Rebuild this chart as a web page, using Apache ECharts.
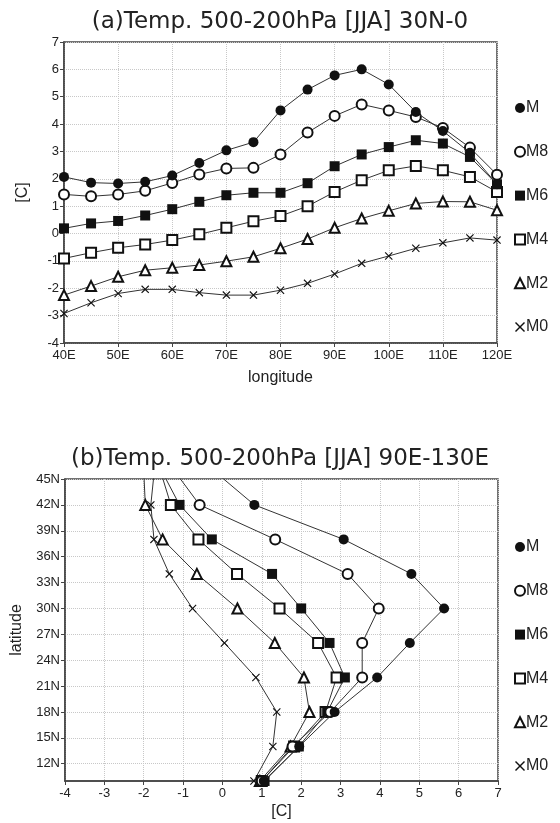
<!DOCTYPE html>
<html>
<head>
<meta charset="utf-8">
<title>Temp. 500-200hPa [JJA]</title>
<script src="https://cdn.jsdelivr.net/npm/echarts@6/dist/echarts.min.js"></script>
</head>
<body style="margin:0;background:#fff">
<div id="main" style="width:560px;height:823px;"></div>
<script type="text/javascript">
// (a) 30N-0 mean, by longitude
var lonA = [40, 45, 50, 55, 60, 65, 70, 75, 80, 85, 90, 95, 100, 105, 110, 115, 120];
var aM  = [2.07, 1.86, 1.83, 1.89, 2.12, 2.58, 3.04, 3.34, 4.5, 5.26, 5.78, 6.0, 5.45, 4.44, 3.75, 2.95, 1.8];
var aM8 = [1.43, 1.36, 1.43, 1.56, 1.85, 2.16, 2.38, 2.4, 2.89, 3.69, 4.3, 4.72, 4.5, 4.26, 3.86, 3.14, 2.15];
var aM6 = [0.19, 0.37, 0.46, 0.66, 0.89, 1.16, 1.4, 1.49, 1.49, 1.84, 2.46, 2.89, 3.16, 3.41, 3.29, 2.8, 1.8];
var aM4 = [-0.91, -0.7, -0.52, -0.4, -0.24, -0.03, 0.21, 0.45, 0.64, 1.0, 1.52, 1.95, 2.31, 2.47, 2.31, 2.07, 1.52];
var aM2 = [-2.25, -1.92, -1.58, -1.34, -1.25, -1.15, -1.01, -0.85, -0.54, -0.2, 0.21, 0.55, 0.83, 1.1, 1.17, 1.16, 0.85];
var aM0 = [-2.92, -2.53, -2.19, -2.04, -2.04, -2.16, -2.25, -2.25, -2.07, -1.82, -1.48, -1.09, -0.82, -0.54, -0.34, -0.16, -0.24];

// (b) 90E-130E mean, by latitude (last row runs past the top edge)
var latB = [10, 14, 18, 22, 26, 30, 34, 38, 42, 46];
var bM  = [1.05, 1.95, 2.85, 3.93, 4.76, 5.63, 4.8, 3.08, 0.81, -0.23];
var bM8 = [1.0, 1.78, 2.74, 3.55, 3.55, 3.97, 3.18, 1.34, -0.58, -1.23];
var bM6 = [1.07, 1.94, 2.66, 3.11, 2.72, 2.0, 1.26, -0.27, -1.09, -1.55];
var bM4 = [1.0, 1.82, 2.62, 2.9, 2.43, 1.45, 0.37, -0.61, -1.31, -1.58];
var bM2 = [0.95, 1.73, 2.21, 2.07, 1.33, 0.38, -0.65, -1.52, -1.96, -2.0];
var bM0 = [0.8, 1.28, 1.38, 0.85, 0.05, -0.76, -1.35, -1.74, -1.82, -1.73];

var latTicks = [12, 15, 18, 21, 24, 27, 30, 33, 36, 39, 42, 45];

var crossPath = 'path://M1,0L5,4L9,0L10,1L6,5L10,9L9,10L5,6L1,10L0,9L4,5L0,1Z';
var names = ['M', 'M8', 'M6', 'M4', 'M2', 'M0'];
var symbols = ['circle', 'emptyCircle', 'rect', 'emptyRect', 'emptyTriangle', crossPath];
var sizes = [10, 10, 10, 10, 10, 8];

var font = 'Liberation Sans';

var myChart = echarts.init(document.getElementById('main'), null, { renderer: 'canvas' });

function makeSeries(name, idx, data, grid) {
    return {
        type: 'line',
        name: name,
        xAxisIndex: grid,
        yAxisIndex: grid,
        data: data,
        symbol: symbols[idx],
        symbolSize: sizes[idx],
        itemStyle: { color: '#111', borderWidth: 1 },
        lineStyle: { color: '#333', width: 1 },
        z: 10 - idx
    };
}

var series = [];
[aM, aM8, aM6, aM4, aM2, aM0].forEach(function (arr, i) {
    series.push(makeSeries(names[i], i, lonA.map(function (lon, j) { return [lon, arr[j]]; }), 0));
});
[bM, bM8, bM6, bM4, bM2, bM0].forEach(function (arr, i) {
    series.push(makeSeries(names[i], i, latB.map(function (lat, j) { return [arr[j], lat]; }), 1));
});

var legendData = names.map(function (n, i) { return { name: n, icon: symbols[i] }; });

function legendAt(top) {
    return {
        orient: 'vertical',
        left: 509,
        top: top,
        itemWidth: 10,
        itemHeight: 10,
        itemGap: 25.8,
        selectedMode: false,
        itemStyle: { borderWidth: 1 },
        textStyle: { fontFamily: font, fontSize: 16, color: '#222', lineHeight: 18, padding: [0, 0, 0, -4] },
        data: legendData
    };
}

var gridLine = { show: true, lineStyle: { type: 'dotted', color: '#c8c8c8', width: 1 } };
var axLine = { show: true, onZero: false, lineStyle: { color: '#444', width: 1.5 } };
var axTick = { show: true, inside: false, length: 4, lineStyle: { color: '#444' } };
var lab = { fontFamily: font, fontSize: 13, color: '#222' };
var nameStyle = { fontFamily: font, fontSize: 16, color: '#222' };
var titleStyle = { fontFamily: 'DejaVu Sans', fontSize: 23, fontWeight: 'normal', color: '#222' };

myChart.setOption({
    animation: false,
    backgroundColor: '#fff',
    title: [
        { text: '(a)Temp. 500-200hPa [JJA] 30N-0', left: 'center', top: 6, textStyle: titleStyle },
        { text: '(b)Temp. 500-200hPa [JJA] 90E-130E', left: 'center', top: 443, textStyle: titleStyle }
    ],
    legend: [legendAt(94), legendAt(533)],
    grid: [
        { left: 64, top: 42, right: 63, bottom: 480, show: true, borderColor: '#444', borderWidth: 1.5 },
        { left: 65, top: 479, right: 62, bottom: 42, show: true, borderColor: '#444', borderWidth: 1.5 }
    ],
    xAxis: [
        { type: 'value', gridIndex: 0, min: 40, max: 120, interval: 10,
          name: 'longitude', nameLocation: 'middle', nameGap: 27, nameTextStyle: nameStyle,
          axisLine: axLine, axisTick: axTick, splitLine: gridLine,
          axisLabel: Object.assign({ margin: 6, formatter: '{value}E' }, lab) },
        { type: 'value', gridIndex: 1, min: -4, max: 7, interval: 1,
          name: '[C]', nameLocation: 'middle', nameGap: 23, nameTextStyle: nameStyle,
          axisLine: axLine, axisTick: axTick, splitLine: gridLine,
          axisLabel: Object.assign({ margin: 6 }, lab) }
    ],
    yAxis: [
        { type: 'value', gridIndex: 0, min: -4, max: 7, interval: 1,
          name: '[C]', nameLocation: 'middle', nameRotate: 90, nameGap: 33, nameTextStyle: nameStyle,
          axisLine: axLine, axisTick: axTick, splitLine: gridLine,
          axisLabel: Object.assign({ margin: 5 }, lab) },
        { type: 'value', gridIndex: 1, min: 10, max: 45,
          name: 'latitude', nameLocation: 'middle', nameRotate: 90, nameGap: 40, nameTextStyle: nameStyle,
          axisLine: axLine,
          axisTick: Object.assign({ customValues: latTicks }, axTick),
          splitLine: gridLine,
          axisLabel: Object.assign({ margin: 5, customValues: latTicks, formatter: '{value}N' }, lab) }
    ],
    series: series
});
</script>
</body>
</html>
